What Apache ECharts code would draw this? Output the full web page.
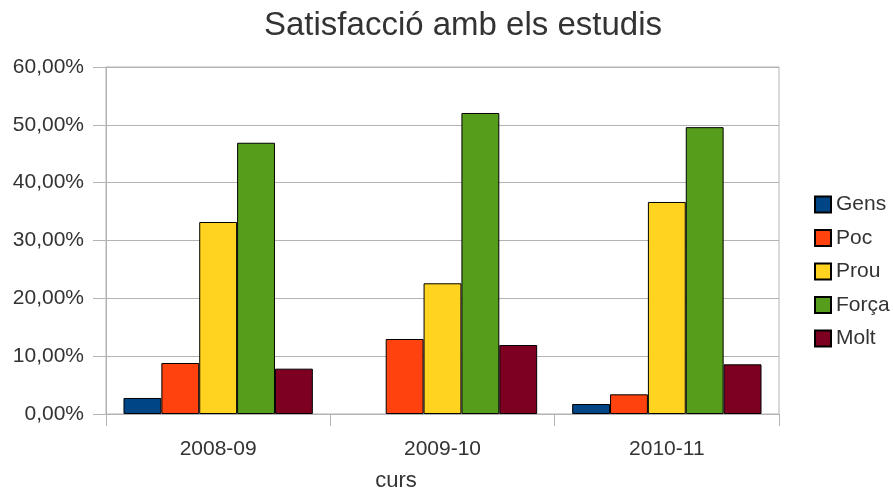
<!DOCTYPE html>
<html>
<head>
<meta charset="utf-8">
<script src="https://cdn.jsdelivr.net/npm/echarts@6/dist/echarts.min.js"></script>
<style>
html,body{margin:0;padding:0;background:#fff;}
#chart{width:893px;height:492px;}
</style>
</head>
<body>
<div id="chart"></div>
<script>
const categories = ['2008-09', '2009-10', '2010-11'];
const seriesNames = ['Gens', 'Poc', 'Prou', 'Força', 'Molt'];
const gens  = [2.77, 0, 1.73];
const poc   = [8.82, 12.97, 3.40];
const prou  = [33.2, 22.6, 36.66];
const forca = [46.9, 52.05, 49.6];
const molt  = [7.84, 11.93, 8.59];
const colors = ['#004586', '#ff420e', '#ffd320', '#579d1c', '#7e0021'];
const yTicks = [0, 10, 20, 30, 40, 50, 60];

const values = [gens, poc, prou, forca, molt];
const FONT = '"Liberation Sans", Arial, sans-serif';
const TXT = '#333333';
const GRAY = '#b3b3b3';

const chart = echarts.init(document.getElementById('chart'), null, {renderer: 'canvas'});
chart.setOption({
  animation: false,
  backgroundColor: '#ffffff',
  textStyle: {fontFamily: FONT},
  title: {
    text: 'Satisfacció amb els estudis',
    left: 259,
    top: 4,
    textStyle: {fontFamily: FONT, fontSize: 33, fontWeight: 'normal', color: TXT}
  },
  graphic: [{
    type: 'text',
    x: 396,
    y: 481,
    style: {
      text: 'curs',
      fontFamily: FONT,
      fontSize: 22,
      fill: TXT,
      textAlign: 'center',
      textVerticalAlign: 'middle'
    }
  }],
  legend: {
    orient: 'vertical',
    left: 809,
    top: 189,
    itemWidth: 16,
    itemHeight: 16,
    itemGap: 12.5,
    itemTextGap: 8,
    icon: 'rect',
    data: seriesNames,
    textStyle: {fontFamily: FONT, fontSize: 21, color: TXT, lineHeight: 16}
  },
  grid: {
    left: 106,
    right: 114,
    top: 67,
    bottom: 78,
    show: true,
    borderColor: GRAY,
    borderWidth: 1,
    containLabel: false
  },
  xAxis: {
    type: 'category',
    data: categories,
    axisLine: {show: true, lineStyle: {color: GRAY, width: 1}},
    axisTick: {show: true, length: 12, lineStyle: {color: GRAY}},
    axisLabel: {fontFamily: FONT, fontSize: 21, color: TXT, margin: 25},
    splitLine: {show: false}
  },
  yAxis: {
    type: 'value',
    min: yTicks[0],
    max: yTicks[yTicks.length - 1],
    interval: 10,
    axisLine: {show: true, lineStyle: {color: GRAY, width: 1}},
    axisTick: {show: true, length: 13, lineStyle: {color: GRAY}},
    axisLabel: {
      fontFamily: FONT, fontSize: 21, color: TXT, margin: 22,
      formatter: function (v) { return v.toFixed(2).replace('.', ',') + '%'; }
    },
    splitLine: {show: true, lineStyle: {color: GRAY, width: 1}}
  },
  series: seriesNames.map(function (name, i) {
    return {
      name: name,
      type: 'bar',
      data: values[i].map(function (v) {
        return v === 0 ? {value: v, itemStyle: {borderWidth: 0}} : v;
      }),
      barGap: '0%',
      barCategoryGap: '15.6%',
      itemStyle: {color: colors[i], borderColor: '#000000', borderWidth: 1}
    };
  })
});
</script>
</body>
</html>
